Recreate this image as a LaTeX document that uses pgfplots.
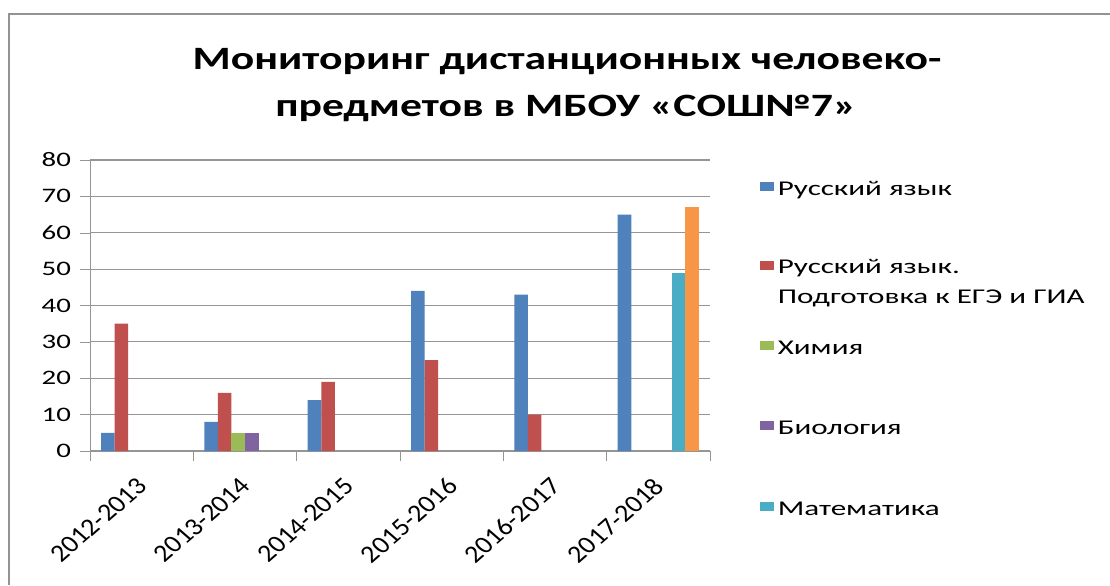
\documentclass[border=0pt]{standalone}
\usepackage{pgfplots}
\pgfplotsset{compat=1.18}
\usepackage{fontspec}
\setmainfont[FakeStretch=1.4]{Carlito}
\newfontfamily\titlefont[FakeStretch=1.34]{Carlito}
\newfontfamily\legfont[FakeStretch=1.48]{Carlito}
\newfontfamily\xlabfont{Carlito}
\definecolor{cBlue}{HTML}{4F81BD}
\definecolor{cRed}{HTML}{C0504D}
\definecolor{cGreen}{HTML}{9BBB59}
\definecolor{cPurple}{HTML}{8064A2}
\definecolor{cTeal}{HTML}{4BACC6}
\definecolor{cOrange}{HTML}{F79646}
\definecolor{cGrid}{HTML}{959595}
\begin{document}
\begin{tikzpicture}[x=1pt,y=1pt]
\useasboundingbox (0,0) rectangle (555,292.5);
\fill[white] (0,0) rectangle (555,292.5);
\draw[gray!85,line width=1.3pt] (4.5,0) -- (4.5,285.5) -- (555,285.5);
\node[font=\titlefont\bfseries\fontsize{16.3}{20}\selectfont] at (283.5,261.5) {Мониторинг дистанционных человеко-};
\node[font=\titlefont\bfseries\fontsize{16.3}{20}\selectfont] at (283,238.5) {предметов в МБОУ «СОШ№7»};
\begin{axis}[
  at={(45pt,67pt)}, anchor=south west,
  scale only axis, width=310pt, height=145.5pt,
  ybar=0pt, bar width=0.131,
  xmin=-0.5, xmax=5.5, ymin=0, ymax=80,
  ytick={0,10,...,80},
  xtick={0,...,5},
  xticklabels={2012-2013,2013-2014,2014-2015,2015-2016,2016-2017,2017-2018},
  minor xtick={-0.5,0.5,...,5.5},
  major x tick style={draw=none},
  minor x tick style={draw=cGrid},
  minor tick length=5pt,
  major tick length=5pt,
  tick align=outside,
  xtick pos=bottom, ytick pos=left,
  axis x line*=bottom, axis y line*=left,
  axis line style={cGrid},
  y tick style={cGrid},
  ymajorgrids, major grid style={cGrid, line width=0.6pt},
  yticklabel style={font=\fontsize{10.3}{12}\selectfont, xshift=-1pt},
  /pgf/number format/assume math mode=true,
  xticklabel style={font=\xlabfont\fontsize{12.3}{14}\selectfont, xshift=-3pt, yshift=-6pt, xscale=1.15, rotate=45, anchor=north east, inner sep=1pt},
  legend cell align=left,
  legend style={draw=none, fill=none, at={(1.07,0.955)}, anchor=north west,
    font=\legfont\fontsize{10.5}{15}\selectfont, row sep=28pt,
    /tikz/every even column/.append style={column sep=8pt}},
  legend image code/.code={\path[#1] (0pt,-0.3pt) rectangle (7pt,4.2pt);},
]
\addplot[fill=cBlue, draw=none] coordinates {(0,5) (1,8) (2,14) (3,44) (4,43) (5,65)};
\addplot[fill=cRed, draw=none] coordinates {(0,35) (1,16) (2,19) (3,25) (4,10)};
\addplot[fill=cGreen, draw=none] coordinates {(1,5)};
\addplot[fill=cPurple, draw=none] coordinates {(1,5)};
\addplot[fill=cTeal, draw=none] coordinates {(5,49)};
\addplot[fill=cOrange, draw=none] coordinates {(5,67)};
\addlegendentry{Русский язык}
\addlegendentry{\raisebox{0pt}[\dimexpr\height-1.5pt\relax][8.5pt]{\parbox[t]{170pt}{Русский язык.\\Подготовка к ЕГЭ и ГИА}}}
\addlegendentry{Химия}
\addlegendentry{Биология}
\addlegendentry{Математика}
\end{axis}
\end{tikzpicture}
\end{document}
